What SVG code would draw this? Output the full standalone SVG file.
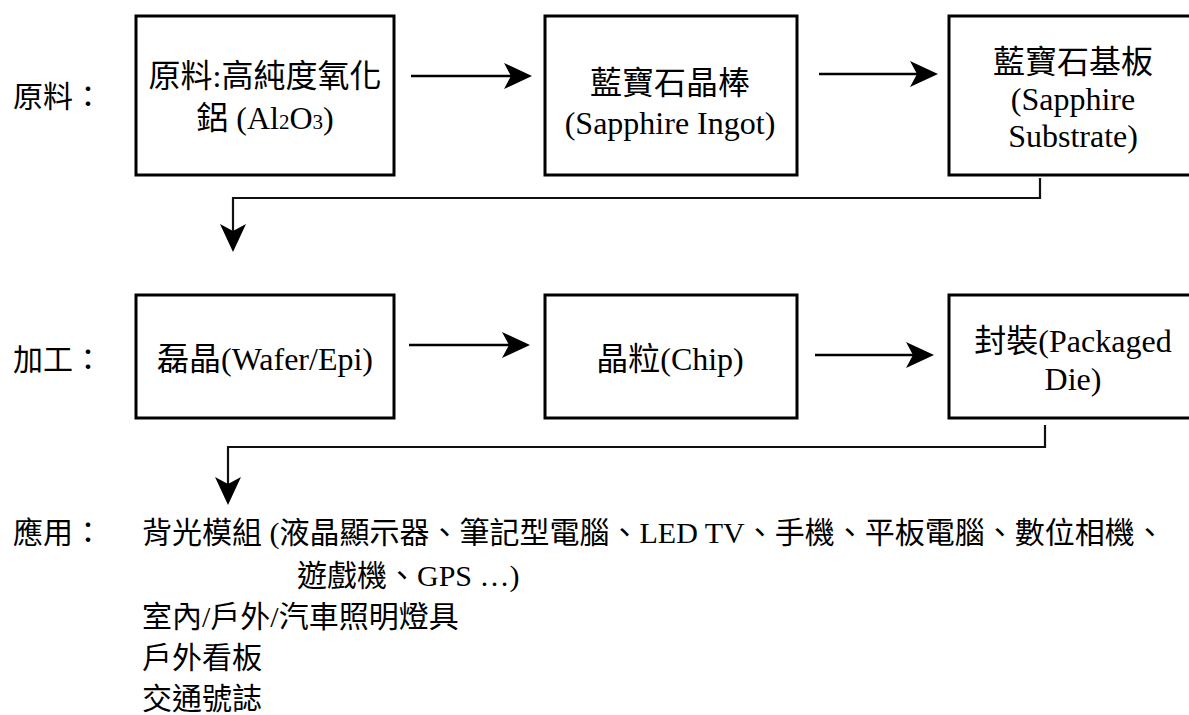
<svg xmlns="http://www.w3.org/2000/svg" width="1189" height="715" viewBox="0 0 1189 715">
<defs>
<style>
.box{fill:#fff;stroke:#000;stroke-width:3}
.t{font-family:"Liberation Serif","Noto Sans CJK TC",serif;font-size:32px;fill:#000;text-anchor:middle}
.lbl{font-family:"Liberation Serif","Noto Sans CJK TC",serif;font-size:30px;fill:#000}
.app{font-family:"Liberation Serif","Noto Sans CJK TC",serif;font-size:30px;fill:#000}
.arr{fill:none;stroke:#000;stroke-width:2.6}
.con{fill:none;stroke:#111;stroke-width:2.2}
</style>
<marker id="ah" viewBox="0 0 28 28" refX="22" refY="14" markerWidth="28" markerHeight="28" markerUnits="userSpaceOnUse" orient="auto">
<path d="M0,1 L28,14 L0,27 L7,14 Z" fill="#000"/>
</marker>
</defs>
<rect width="1189" height="715" fill="#fff"/>

<text class="lbl" x="13" y="107">原料：</text>
<text class="lbl" x="13" y="370">加工：</text>

<g id="n1">
<rect class="box" x="136" y="16" width="258" height="159"/>
<text class="t" x="265" y="87">原料:高純度氧化</text>
<text class="t" x="265" y="129">鋁 (Al<tspan font-size="21">2</tspan>O<tspan font-size="21">3</tspan>)</text>
</g>
<g id="n2">
<rect class="box" x="545" y="16" width="252" height="159"/>
<text class="t" x="670" y="94">藍寶石晶棒</text>
<text class="t" x="670" y="134">(Sapphire Ingot)</text>
</g>
<g id="n3">
<rect class="box" x="949" y="16" width="250" height="159"/>
<text class="t" x="1073" y="73">藍寶石基板</text>
<text class="t" x="1073" y="110">(Sapphire</text>
<text class="t" x="1073" y="147">Substrate)</text>
</g>
<g id="n4">
<rect class="box" x="136" y="295" width="258" height="123"/>
<text class="t" x="265" y="370">磊晶(Wafer/Epi)</text>
</g>
<g id="n5">
<rect class="box" x="545" y="295" width="252" height="123"/>
<text class="t" x="670" y="370">晶粒(Chip)</text>
</g>
<g id="n6">
<rect class="box" x="949" y="295" width="250" height="123"/>
<text class="t" x="1073" y="352">封裝(Packaged</text>
<text class="t" x="1073" y="390">Die)</text>
</g>

<g id="connectors">
<line class="arr" x1="411" y1="76" x2="526" y2="76" marker-end="url(#ah)"/>
<line class="arr" x1="819" y1="74" x2="932" y2="74" marker-end="url(#ah)"/>
<line class="arr" x1="409" y1="345" x2="524" y2="345" marker-end="url(#ah)"/>
<line class="arr" x1="815" y1="355" x2="928" y2="355" marker-end="url(#ah)"/>
<polyline class="con" points="1040,178 1040,198 233,198 233,246" marker-end="url(#ah)"/>
<polyline class="con" points="1045,425 1045,447 228,447 228,499" marker-end="url(#ah)"/>
</g>

<g id="applications">
<text class="lbl" x="13" y="543">應用：</text>
<text class="app" x="142" y="543">背光模組 (液晶顯示器、筆記型電腦、LED TV、手機、平板電腦、數位相機、</text>
<text class="app" x="297" y="586">遊戲機、GPS …)</text>
<text class="app" x="142" y="627">室內/戶外/汽車照明燈具</text>
<text class="app" x="142" y="668">戶外看板</text>
<text class="app" x="142" y="709">交通號誌</text>
</g>
</svg>
